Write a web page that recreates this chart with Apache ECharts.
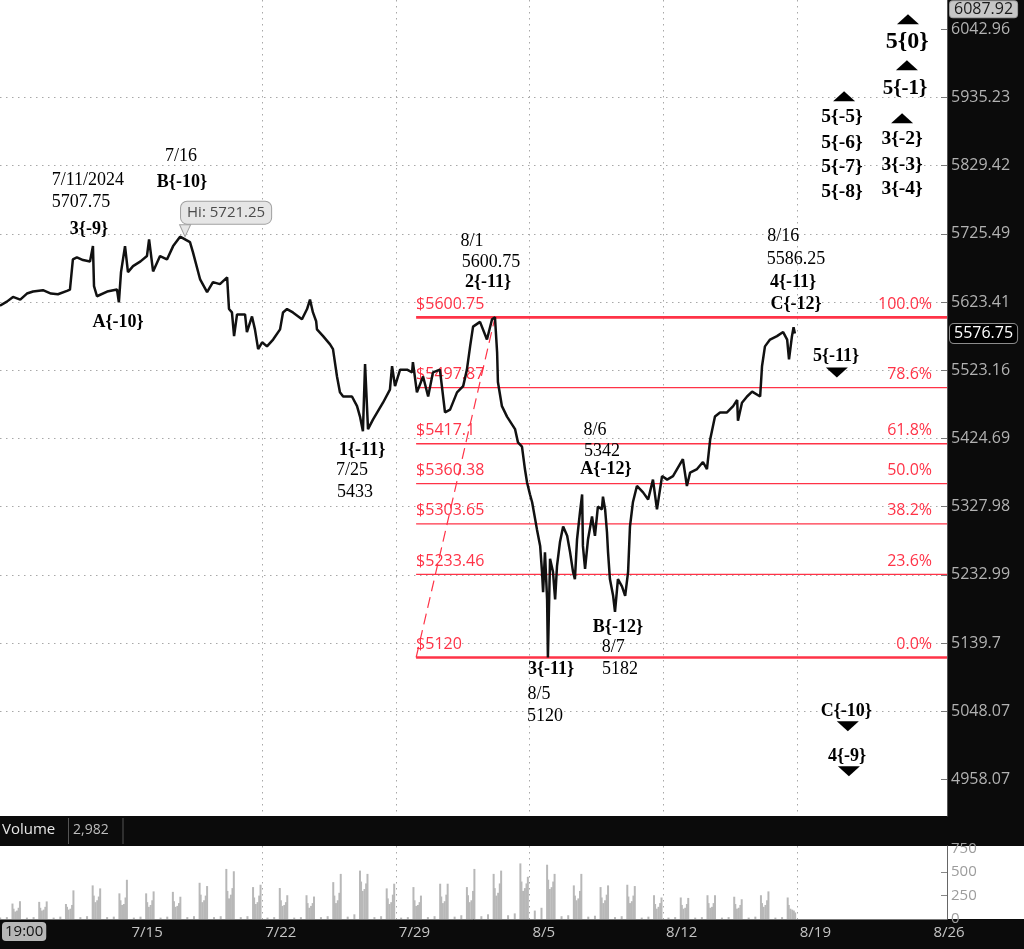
<!DOCTYPE html>
<html><head><meta charset="utf-8">
<script src="https://cdn.jsdelivr.net/npm/echarts@6/dist/echarts.min.js"></script>
<style>html,body{margin:0;padding:0;background:#0b0b0b;}#c{width:1024px;height:949px;}</style>
</head><body><div id="c"></div>
<script>
// ---- time axis: trading sessions counted from the 7/15 session ----
const weekTicks = [0, 5, 10, 15, 20, 25, 30];
const weekLabels = ['7/15', '7/22', '7/29', '8/5', '8/12', '8/19', '8/26'];
const X_MIN = -4.807, X_MAX = 30.62;

// ---- price axis (log) ----
const priceTicks = [4958.07, 5048.07, 5139.7, 5232.99, 5327.98, 5424.69, 5523.16, 5623.41, 5725.49, 5829.42, 5935.23, 6042.96];
const priceTickLabels = ['4958.07', '5048.07', '5139.7', '5232.99', '5327.98', '5424.69', '5523.16', '5623.41', '5725.49', '5829.42', '5935.23', '6042.96'];
const Y_MIN = 4910.3, Y_MAX = 6089.85;
const lastPrice = 5576.75;
const axisHigh = 6087.92;

// ---- price path ----
const priceT = [-4.81,-4.55,-4.32,-4.05,-3.80,-3.57,-3.20,-2.90,-2.64,-2.30,-2.19,-2.08,-1.93,-1.70,-1.44,-1.33,-1.29,-1.18,-0.80,-0.43,-0.36,-0.28,-0.13,-0.02,0.17,0.45,0.69,0.77,0.92,1.18,1.44,1.67,1.93,2.30,2.41,2.68,2.94,3.16,3.42,3.69,3.76,3.87,3.95,4.06,4.36,4.43,4.62,4.73,4.85,5.00,5.18,5.41,5.67,5.78,5.93,6.15,6.49,6.68,6.79,6.90,7.02,7.05,7.28,7.54,7.65,7.80,7.91,8.03,8.36,8.55,8.66,8.77,8.85,8.96,9.15,9.52,9.78,9.86,9.97,10.16,10.42,10.61,10.64,10.79,11.02,11.21,11.39,11.65,11.84,12.03,12.29,12.52,12.66,12.78,12.89,13.15,13.41,13.60,13.71,13.79,13.82,13.97,14.16,14.46,14.57,14.72,14.83,14.91,15.02,15.10,15.28,15.40,15.47,15.51,15.58,15.66,15.69,15.77,15.88,15.96,16.03,16.14,16.26,16.41,16.52,16.63,16.70,16.78,16.89,16.97,17.00,17.08,17.19,17.34,17.45,17.56,17.71,17.75,17.83,17.90,17.94,18.01,18.13,18.20,18.31,18.46,18.58,18.69,18.76,18.87,19.02,19.25,19.44,19.62,19.77,19.96,20.15,20.37,20.74,20.89,21.01,21.27,21.49,21.64,21.76,21.94,22.13,22.39,22.62,22.77,22.80,22.95,23.14,23.33,23.63,23.70,23.81,24.00,24.26,24.49,24.64,24.71,24.82,24.88,24.93];
const priceV = [5618,5624,5631,5627,5636,5639,5641,5636,5635,5640,5642,5687,5690,5686,5684,5707,5647,5632,5639,5642,5623,5668,5707,5668,5677,5684,5692,5717,5669,5692,5687,5707,5721.25,5713,5698,5657,5638,5653,5650,5660,5613,5608,5573,5605,5605,5579,5602,5583,5554,5564,5558,5568,5583,5608,5613,5608,5598,5613,5627,5608,5595,5583,5573,5561,5554,5514,5491,5485,5485,5471,5456,5435,5532,5438,5452,5476,5495,5529,5500,5524,5524,5520,5535,5491,5514,5485,5520,5524,5462,5466,5491,5500,5524,5558,5587,5594,5568,5598,5600.75,5549,5506,5471,5456,5438,5419,5413,5381,5362,5345,5334,5296,5273,5237,5209,5264,5199,5120,5255,5237,5199,5245,5278,5300,5287,5264,5237,5227,5282,5320,5345,5273,5241,5282,5314,5287,5328,5324,5342,5324,5292,5264,5227,5204,5182,5227,5217,5204,5237,5300,5334,5357,5348,5338,5366,5324,5371,5366,5371,5395,5357,5376,5381,5391,5381,5423,5456,5462,5462,5471,5480,5450,5476,5485,5492,5485,5529,5558,5568,5573,5579,5568,5539,5573,5586.25,5576.75];

// ---- Fibonacci retracement (8/1 high to 8/5 low) ----
const fibPct = ['100.0%', '78.6%', '61.8%', '50.0%', '38.2%', '23.6%', '0.0%'];
const fibPrice = [5600.75, 5497.87, 5417.1, 5360.38, 5303.65, 5233.46, 5120];
const fibPriceLabels = ['$5600.75', '$5497.87', '$5417.1', '$5360.38', '$5303.65', '$5233.46', '$5120'];
const fibStartT = 10.76;
const fibTrendT = [10.76, 13.71];
const fibTrendP = [5120, 5600.75];

// ---- annotations ----
const labelText = ['7/11/2024','5707.75','3{-9}','7/16','B{-10}','A{-10}','1{-11}','7/25','5433','8/1','5600.75','2{-11}','8/16','5586.25','4{-11}','C{-12}','5{-11}','8/6','5342','A{-12}','B{-12}','8/7','5182','3{-11}','8/5','5120','C{-10}','4{-9}','5{0}','5{-1}','5{-5}','5{-6}','5{-7}','5{-8}','3{-2}','3{-3}','3{-4}'];
const labelT = [-1.52,-1.78,-1.48,1.96,2.00,-0.39,8.74,8.36,8.47,12.85,13.56,13.45,24.49,24.97,24.86,24.97,26.47,17.45,17.71,17.86,18.31,18.13,18.39,15.81,15.36,15.58,26.85,26.88,29.13,29.05,26.69,26.69,26.69,26.69,28.94,28.94,28.94];
const labelP = [5806.9,5773.3,5732.3,5843.8,5803.8,5593.4,5407.6,5379.3,5348.2,5714.2,5682.6,5652.7,5721.7,5687.1,5652.7,5620.0,5543.4,5436.2,5406.1,5380.7,5160.9,5133.7,5104.0,5104.0,5070.5,5041.1,5047.8,4988.2,6023.8,5949.6,5904.2,5863.9,5826.9,5788.5,5870.1,5829.9,5793.1];
const labelKind = ['n','n','b','n','b','b','b','n','n','n','n','b','n','n','b','b','b','n','n','b','b','n','n','b','n','n','b','b','L','M','m','m','m','m','m','m','m'];

const triT = [29.16, 29.12, 26.77, 28.94, 26.50, 26.91, 26.95];
const triP = [6058.9, 5985.8, 5937.0, 5902.7, 5520.0, 5027.8, 4968.5];
const triDir = ['up', 'up', 'up', 'up', 'down', 'down', 'down'];

const hiT = 1.93, hiP = 5721.25, hiText = 'Hi: 5721.25';

// ---- volume ----
const volTicks = [0, 250, 500, 750];
const volGrid = [250, 500];
const volSessions = [-5,-4,-3,-2,-1,0,1,2,3,4,5,6,7,8,9,10,11,12,13,14,15,16,17,18,19,20,21,22,23,24];
const volPhase = [0.20, 0.45, 0.66, 0.70, 0.76, 0.83, 0.89, 0.94];
const volRows = [
  [15,20,165,110,80,90,120,190],
  [15,20,183,120,90,100,130,188],
  [15,25,160,130,100,110,150,306],
  [20,30,359,250,180,200,240,327],
  [20,25,274,200,150,160,230,419],
  [15,25,274,180,130,150,200,295],
  [15,25,290,190,130,140,170,238],
  [20,30,387,260,180,200,250,352],
  [20,30,535,300,220,260,330,510],
  [20,30,341,230,160,180,250,366],
  [15,20,331,200,140,150,180,254],
  [15,20,254,170,120,140,170,240],
  [20,30,394,250,170,200,280,482],
  [25,50,517,400,300,320,380,482],
  [20,30,327,220,160,180,260,377],
  [15,20,341,200,140,150,180,250],
  [20,30,377,240,170,190,260,377],
  [25,40,341,254,180,200,300,535],
  [30,50,482,330,250,280,380,517],
  [40,60,594,400,300,330,380,451],
  [90,120,580,420,320,340,400,482],
  [30,40,359,250,200,220,300,482],
  [25,35,341,230,170,200,260,359],
  [20,30,366,240,170,190,250,352],
  [15,25,254,160,110,130,170,230],
  [15,20,230,150,110,120,160,225],
  [15,20,254,170,120,130,170,254],
  [15,20,238,160,110,120,150,211],
  [15,25,254,170,130,150,200,295],
  [15,20,230,150,110,100,90,70]
];
const volumeNow = '2,982';
const cursorTime = '19:00';

// ---------------------------------------------------------------
const RED = '#ff3347';
const SERIF = '"Liberation Serif", "Times New Roman", serif';
const SANS = '"Open Sans", "Noto Sans", sans-serif';
const dotted = { color: '#a8a8a8', type: [1.5, 4.5], width: 1 };

const series = [];
fibPrice.forEach((p, i) => {
  const thick = (i === 0 || i === fibPrice.length - 1);
  series.push({
    type: 'line', xAxisIndex: 0, yAxisIndex: 0, silent: true, symbol: 'none', z: 2,
    data: [[fibStartT, p], [X_MAX, p]],
    lineStyle: { color: RED, width: thick ? 2.6 : 1.4 }
  });
});
series.push({
  type: 'line', xAxisIndex: 0, yAxisIndex: 0, silent: true, symbol: 'none', z: 2,
  data: fibTrendT.map((t, i) => [t, fibTrendP[i]]),
  lineStyle: { color: RED, width: 1.2, type: [11, 6] }
});
series.push({
  type: 'scatter', xAxisIndex: 0, yAxisIndex: 0, silent: true, symbolSize: 0, z: 3,
  itemStyle: { opacity: 1 },
  data: fibPrice.map((p, i) => ({ value: [fibStartT, p], name: fibPriceLabels[i] })),
  label: { show: true, position: 'right', distance: 0, offset: [0, -13], formatter: '{b}', color: RED, fontSize: 16, fontFamily: SANS }
});
series.push({
  type: 'scatter', xAxisIndex: 0, yAxisIndex: 0, silent: true, symbolSize: 0, z: 3,
  itemStyle: { opacity: 1 },
  data: fibPrice.map((p, i) => ({ value: [X_MAX, p], name: fibPct[i] })),
  label: { show: true, position: 'left', distance: 15, offset: [0, -13], formatter: '{b}', color: RED, fontSize: 16, fontFamily: SANS }
});
series.push({
  type: 'line', xAxisIndex: 0, yAxisIndex: 0, silent: true, symbol: 'none', z: 5,
  data: priceT.map((t, i) => [t, priceV[i]]),
  lineStyle: { color: '#111', width: 2.5 },
  markLine: {
    silent: true, symbol: 'none', animation: false,
    lineStyle: { color: 'rgba(0,0,0,0)', width: 0, type: 'solid' },
    data: [
      { yAxis: lastPrice, label: { show: true, position: 'end', distance: 3, formatter: String(lastPrice), color: '#fff', backgroundColor: '#000', borderColor: '#8c8c8c', borderWidth: 1, borderRadius: 4, padding: [2, 4, 1, 4], fontSize: 16, fontFamily: SANS } },
      { yAxis: axisHigh, label: { show: true, position: 'end', distance: 3, offset: [0, 8], formatter: String(axisHigh), color: '#1a1a1a', backgroundColor: '#c6c6c6', borderColor: '#9a9a9a', borderWidth: 1, borderRadius: 3, padding: [0, 4, 0, 4], fontSize: 16, fontFamily: SANS } }
    ]
  }
});
const kindStyle = {
  n: { fontWeight: 'normal', fontSize: 18 },
  b: { fontWeight: 'bold', fontSize: 18 },
  m: { fontWeight: 'bold', fontSize: 19.5 },
  M: { fontWeight: 'bold', fontSize: 21 },
  L: { fontWeight: 'bold', fontSize: 24 }
};
series.push({
  type: 'scatter', xAxisIndex: 0, yAxisIndex: 0, silent: true, symbolSize: 0, z: 6,
  itemStyle: { opacity: 1 },
  data: labelText.map((s, i) => ({
    value: [labelT[i], labelP[i]], name: s,
    label: Object.assign({ color: '#000' }, kindStyle[labelKind[i]])
  })),
  label: { show: true, position: 'inside', formatter: '{b}', color: '#000', fontFamily: SERIF }
});
series.push({
  type: 'scatter', xAxisIndex: 0, yAxisIndex: 0, silent: true, z: 6,
  symbol: 'triangle', symbolSize: [22, 10],
  data: triT.map((t, i) => ({ value: [t, triP[i]], symbolRotate: triDir[i] === 'down' ? 180 : 0 })),
  itemStyle: { color: '#000', opacity: 1 }
});
series.push({
  type: 'scatter', xAxisIndex: 0, yAxisIndex: 0, silent: true, z: 7,
  symbol: 'triangle', symbolSize: [11, 12], symbolRotate: 180, symbolOffset: [5, -6],
  itemStyle: { color: '#e6e6e6', borderColor: '#a0a0a0', borderWidth: 1, opacity: 1 },
  data: [[hiT, hiP]]
});
series.push({
  type: 'scatter', xAxisIndex: 0, yAxisIndex: 0, silent: true, z: 8, symbolSize: 0,
  itemStyle: { opacity: 1 },
  data: [{ value: [hiT, hiP], name: hiText }],
  label: { show: true, position: 'inside', offset: [46, -24], formatter: '{b}', color: '#4c4c4c', fontSize: 15, fontFamily: SANS,
    backgroundColor: '#e6e6e6', borderColor: '#a0a0a0', borderWidth: 1, borderRadius: 6, padding: [4, 6, 3, 6] }
});
const volData = [];
volSessions.forEach((s, i) => volRows[i].forEach((v, j) => volData.push([s + volPhase[j], v])));
series.push({
  type: 'bar', xAxisIndex: 1, yAxisIndex: 1, silent: true, barWidth: 2, z: 3,
  data: volData, itemStyle: { color: '#b8b8b8' }
});

function nearestLabel(v) {
  let best = -1, bd = Infinity;
  priceTicks.forEach((t, i) => { const d = Math.abs(t - v); if (d < bd) { bd = d; best = i; } });
  return bd < 0.5 ? priceTickLabels[best] : '';
}

const option = {
  backgroundColor: '#0b0b0b',
  animation: false,
  grid: [
    { left: 0, top: 0, width: 947, height: 816, show: true, backgroundColor: '#ffffff', borderWidth: 0 },
    { left: 0, top: 846, width: 947, height: 73, show: true, backgroundColor: '#ffffff', borderWidth: 0 }
  ],
  xAxis: [
    { type: 'value', gridIndex: 0, min: X_MIN, max: X_MAX,
      axisLine: { show: false, onZero: false }, axisTick: { show: false, customValues: weekTicks },
      axisLabel: { show: false, customValues: weekTicks },
      splitLine: { show: true, showMinLine: false, showMaxLine: false, lineStyle: dotted } },
    { type: 'value', gridIndex: 1, min: X_MIN, max: X_MAX,
      axisLine: { show: true, onZero: false, lineStyle: { color: '#777' } },
      axisTick: { show: false, customValues: weekTicks },
      axisLabel: { show: true, customValues: weekTicks, align: 'left', margin: 6, padding: [0, 0, 0, 3], color: '#c4c4c4', fontSize: 15, fontFamily: SANS,
        formatter: v => { const k = weekTicks.indexOf(Math.round(v)); return k >= 0 ? weekLabels[k] : ''; } },
      splitLine: { show: true, showMinLine: false, showMaxLine: false, lineStyle: dotted } }
  ],
  yAxis: [
    { type: 'log', gridIndex: 0, position: 'right', min: Y_MIN, max: Y_MAX,
      axisLine: { show: true, onZero: false, lineStyle: { color: '#555' } },
      axisTick: { show: true, inside: true, length: 6, customValues: priceTicks, lineStyle: { color: '#777' } },
      axisLabel: { show: true, customValues: priceTicks, margin: 4, color: '#b2b2b2', fontSize: 16, fontFamily: SANS, formatter: v => nearestLabel(v) },
      splitLine: { show: true, showMinLine: false, showMaxLine: false, lineStyle: dotted } },
    { type: 'value', gridIndex: 1, position: 'right', min: 0, max: 780,
      axisLine: { show: true, onZero: false, lineStyle: { color: '#666' } },
      axisTick: { show: true, inside: true, length: 6, customValues: volGrid, lineStyle: { color: '#888' } },
      axisLabel: { show: true, customValues: volTicks, margin: 4, color: '#9c9c9c', fontSize: 15, fontFamily: SANS },
      splitLine: { show: true, showMinLine: false, showMaxLine: false, lineStyle: dotted } }
  ],
  graphic: [
    { type: 'rect', z: -1, shape: { x: 947, y: 846, width: 77, height: 73 }, style: { fill: '#ffffff' } },
    { type: 'text', x: 2, y: 822, style: { text: 'Volume', fill: '#e6e6e6', font: '15px ' + SANS } },
    { type: 'line', shape: { x1: 68.5, y1: 818, x2: 68.5, y2: 844 }, style: { stroke: '#555', lineWidth: 1 } },
    { type: 'text', x: 73, y: 823, style: { text: volumeNow, fill: '#bdbdbd', font: '14px ' + SANS } },
    { type: 'line', shape: { x1: 123, y1: 818, x2: 123, y2: 844 }, style: { stroke: '#555', lineWidth: 1 } },
    { type: 'text', x: 2, y: 922, style: { text: cursorTime, fill: '#111', backgroundColor: '#b6b6b6', borderRadius: 4, padding: [2, 3, 2, 3], font: '15px ' + SANS } }
  ],
  series: series
};

const chart = echarts.init(document.getElementById('c'), null, { renderer: 'canvas' });
chart.setOption(option);
</script>
</body></html>
